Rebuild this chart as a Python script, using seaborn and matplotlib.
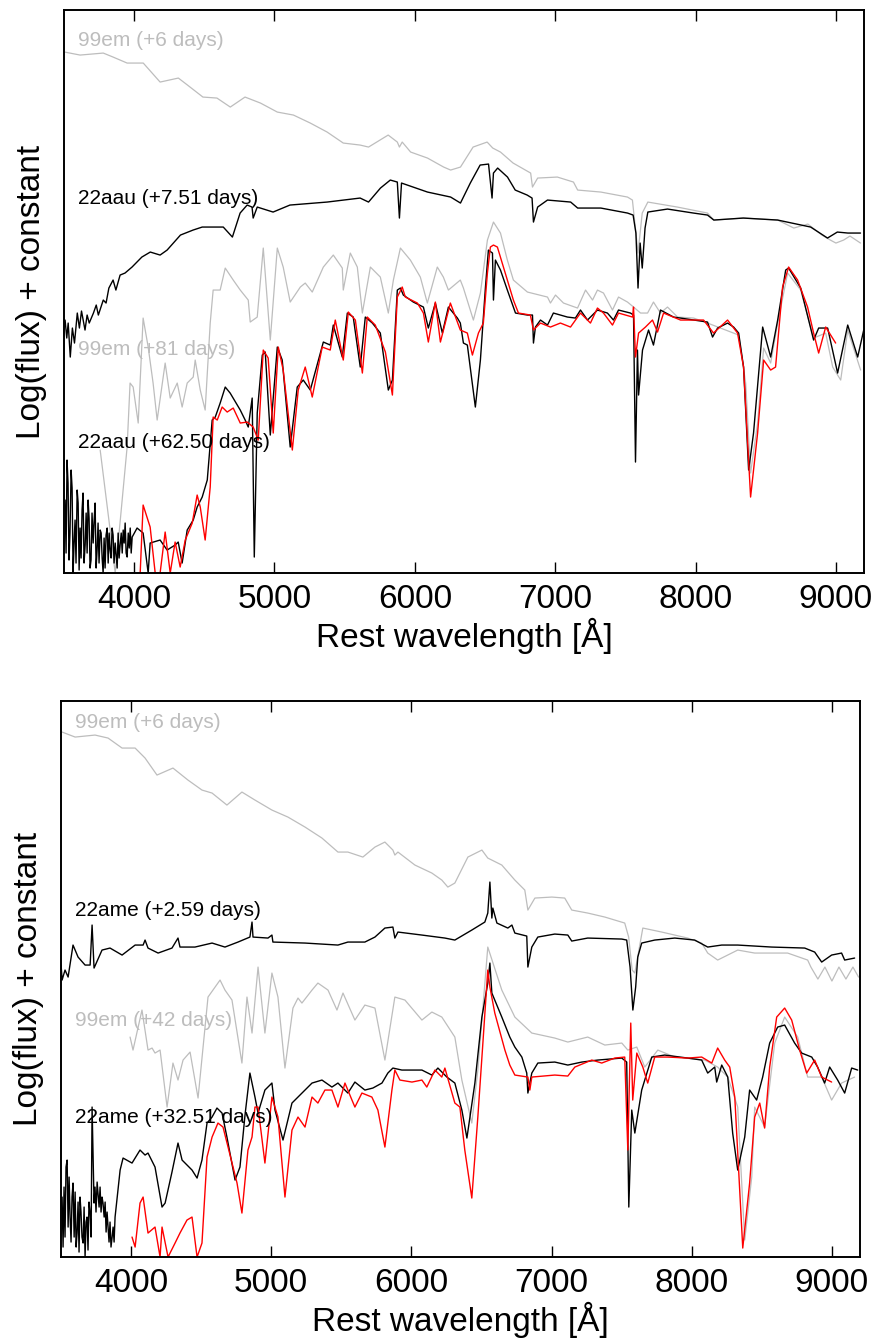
import matplotlib
matplotlib.use("Agg")
import matplotlib.pyplot as plt
import seaborn as sns
import pandas as pd

# --- spectra (rest wavelength [A], log flux + constant, arbitrary units) ---

# top panel: SN 2022aau vs 99em
em99_6d_top = [(3505, 521), (3615, 518), (3780, 520), (3850, 516), (3950, 510), (4065, 510), (4185, 491),
               (4315, 495), (4380, 488), (4490, 476), (4590, 475), (4685, 466), (4790, 476), (4900, 470),
               (5020, 461), (5135, 458), (5255, 450), (5375, 441), (5490, 430), (5610, 428), (5670, 426),
               (5810, 438), (5875, 431), (5890, 426), (5910, 431), (5970, 421), (6090, 415), (6205, 406),
               (6255, 403), (6325, 406), (6415, 426), (6515, 431), (6555, 425), (6610, 421), (6700, 410),
               (6825, 400), (6838, 386), (6875, 395), (7015, 396), (7130, 391), (7160, 383), (7325, 381),
               (7515, 376), (7550, 373), (7575, 340), (7590, 320), (7620, 360), (7660, 371), (7870, 366),
               (8085, 360), (8130, 353), (8340, 355), (8585, 353), (8700, 345), (8800, 349), (8900, 338),
               (8960, 333), (9000, 330), (9055, 333), (9100, 337), (9175, 330)]

aau_7d = [(3508, 253), (3520, 235), (3530, 250), (3545, 216), (3560, 245), (3575, 230), (3595, 260),
          (3610, 245), (3625, 262), (3650, 243), (3665, 258), (3680, 250), (3710, 260), (3730, 268),
          (3745, 258), (3780, 273), (3800, 270), (3820, 285), (3850, 293), (3870, 283), (3900, 298),
          (3935, 300), (3985, 306), (4055, 316), (4115, 321), (4185, 318), (4235, 323), (4330, 338),
          (4420, 343), (4485, 346), (4635, 346), (4700, 336), (4755, 360), (4805, 368), (4840, 366),
          (4848, 355), (4877, 366), (4990, 361), (5110, 368), (5375, 371), (5610, 375), (5670, 371),
          (5755, 385), (5825, 393), (5875, 391), (5890, 355), (5905, 390), (6090, 381), (6255, 376),
          (6325, 370), (6395, 390), (6465, 408), (6525, 409), (6550, 375), (6560, 400), (6590, 405),
          (6660, 396), (6715, 383), (6800, 378), (6835, 375), (6845, 351), (6875, 366), (6945, 373),
          (7110, 371), (7160, 365), (7325, 365), (7515, 360), (7555, 358), (7575, 340), (7590, 285),
          (7605, 330), (7620, 305), (7640, 345), (7660, 361), (7800, 364), (7985, 360), (8085, 358),
          (8130, 353), (8340, 355), (8585, 353), (8820, 346), (8940, 335), (9010, 341), (9085, 340),
          (9175, 340)]

em99_81d = [(3758, 123), (3829, 43), (3865, 0), (3886, 30), (3950, 126), (3971, 190), (3993, 186),
            (4029, 150), (4064, 255), (4100, 226), (4135, 190), (4164, 153), (4221, 210), (4257, 175),
            (4307, 190), (4342, 166), (4378, 190), (4421, 196), (4435, 213), (4471, 183), (4506, 163),
            (4542, 250), (4563, 283), (4613, 283), (4649, 305), (4706, 293), (4756, 283), (4813, 273),
            (4827, 251), (4877, 256), (4920, 325), (4970, 233), (5020, 325), (5062, 306), (5112, 271),
            (5184, 286), (5219, 290), (5269, 281), (5348, 306), (5419, 318), (5483, 305), (5490, 283),
            (5540, 320), (5590, 306), (5626, 260), (5683, 306), (5754, 296), (5811, 260), (5847, 293),
            (5897, 325), (5968, 313), (6039, 296), (6089, 270), (6160, 306), (6203, 296), (6239, 283),
            (6324, 293), (6346, 285), (6417, 253), (6467, 280), (6517, 333), (6560, 351), (6610, 340),
            (6659, 313), (6702, 293), (6802, 281), (6945, 276), (6966, 270), (7002, 278), (7059, 270),
            (7159, 265), (7216, 283), (7266, 273), (7301, 283), (7344, 280), (7408, 263), (7451, 276),
            (7515, 271), (7558, 266), (7608, 260), (7658, 260), (7700, 271), (7750, 260), (7800, 266),
            (7872, 256), (7986, 255), (8085, 250), (8307, 238), (8357, 190), (8392, 100), (8442, 150),
            (8485, 225), (8535, 210), (8585, 250), (8656, 300), (8749, 283), (8841, 235), (8927, 240),
            (8977, 206), (9034, 193), (9084, 243), (9176, 203)]

aau_62d = [(3508, 73), (3515, 20), (3522, 113), (3529, 90), (3536, 13), (3543, 40), (3551, 103),
           (3558, 85), (3565, 0), (3572, 30), (3579, 53), (3586, 10), (3594, 83), (3601, 70), (3608, 3),
           (3615, 45), (3622, 15), (3629, 63), (3636, 80), (3643, 10), (3651, 28), (3658, 60), (3665, 20),
           (3672, 73), (3679, 55), (3686, 5), (3693, 13), (3700, 60), (3708, 30), (3715, 53), (3722, 70),
           (3729, 5), (3736, 23), (3743, 50), (3750, 10), (3758, 43), (3765, 40), (3772, 15), (3779, 0),
           (3786, 35), (3793, 5), (3800, 38), (3808, 45), (3815, 10), (3822, 40), (3829, 23), (3836, 15),
           (3843, 45), (3850, 38), (3857, 10), (3865, 30), (3872, 18), (3879, 5), (3886, 40), (3893, 15),
           (3900, 28), (3908, 40), (3915, 20), (3922, 43), (3929, 30), (3936, 50), (3943, 20), (3950, 16),
           (3958, 40), (3965, 25), (3972, 45), (3979, 20), (3986, 36),
           (4021, 45), (4064, 40), (4100, 0), (4114, 30), (4185, 33), (4235, 23), (4292, 28), (4314, 31),
           (4342, 10), (4378, 43), (4421, 53), (4449, 66), (4485, 76), (4521, 93), (4556, 153), (4578, 156),
           (4613, 170), (4649, 186), (4684, 180), (4756, 163), (4791, 153), (4813, 146), (4841, 175),
           (4856, 16), (4877, 160), (4913, 218), (4934, 221), (4970, 138), (5020, 226), (5055, 213),
           (5112, 126), (5162, 186), (5205, 193), (5255, 183), (5348, 231), (5397, 228), (5419, 248),
           (5483, 216), (5519, 260), (5561, 256), (5611, 206), (5647, 256), (5697, 250), (5754, 240),
           (5811, 183), (5840, 193), (5875, 283), (5897, 285), (5918, 278), (5989, 271), (6061, 266),
           (6096, 245), (6146, 270), (6196, 240), (6239, 266), (6303, 255), (6324, 250), (6346, 230),
           (6374, 228), (6431, 166), (6467, 213), (6503, 286), (6524, 323), (6553, 320), (6560, 273),
           (6574, 313), (6610, 303), (6659, 283), (6717, 260), (6802, 258), (6838, 258), (6845, 230),
           (6859, 246), (6895, 253), (6945, 248), (6987, 260), (7087, 256), (7144, 255), (7180, 263),
           (7230, 253), (7301, 263), (7372, 260), (7415, 253), (7451, 263), (7536, 260), (7558, 258),
           (7572, 111), (7586, 223), (7594, 178), (7622, 223), (7665, 243), (7700, 228), (7750, 263),
           (7843, 256), (7986, 253), (8085, 251), (8121, 236), (8157, 245), (8228, 250), (8271, 246),
           (8307, 240), (8342, 206), (8378, 103), (8413, 140), (8478, 246), (8535, 216), (8585, 253),
           (8642, 303), (8663, 305), (8749, 285), (8841, 233), (8877, 245), (8941, 245), (9012, 200),
           (9084, 248), (9155, 216), (9198, 243)]

aau_62d_cmp = [(4043, 0), (4064, 68), (4114, 46), (4150, 0), (4185, 0), (4221, 41), (4257, 0), (4292, 31),
               (4328, 6), (4364, 33), (4414, 50), (4449, 78), (4471, 66), (4506, 33), (4542, 86), (4563, 156),
               (4592, 153), (4627, 166), (4663, 161), (4706, 165), (4756, 150), (4806, 151), (4848, 146),
               (4884, 133), (4920, 223), (4955, 215), (4991, 140), (5027, 226), (5062, 203), (5127, 123),
               (5169, 183), (5219, 206), (5269, 176), (5340, 226), (5397, 223), (5433, 253), (5490, 213),
               (5526, 261), (5576, 253), (5626, 200), (5661, 256), (5718, 248), (5790, 221), (5840, 178),
               (5875, 276), (5910, 286), (5932, 276), (6018, 270), (6061, 260), (6096, 231), (6146, 271),
               (6182, 231), (6253, 270), (6324, 243), (6374, 240), (6410, 218), (6453, 240), (6488, 250),
               (6517, 300), (6538, 326), (6560, 328), (6588, 326), (6631, 306), (6702, 273), (6738, 260),
               (6823, 258), (6845, 243), (6895, 250), (6966, 246), (7037, 250), (7109, 246), (7180, 260),
               (7251, 250), (7301, 265), (7344, 260), (7408, 248), (7451, 260), (7551, 256), (7558, 266),
               (7572, 216), (7594, 240), (7643, 246), (7693, 253), (7729, 241), (7772, 260), (7893, 253),
               (8057, 253), (8128, 240), (8228, 253), (8299, 240), (8342, 206), (8392, 76), (8442, 140),
               (8485, 213), (8535, 203), (8570, 206), (8620, 286), (8663, 306), (8727, 293), (8798, 266),
               (8841, 240), (8877, 220), (8927, 246), (8998, 230)]

# bottom panel: SN 2022ame vs 99em
em99_6d_bot = [(3508, 525), (3601, 520), (3743, 522), (3836, 519), (3936, 509), (4029, 509), (4100, 499),
               (4185, 482), (4299, 489), (4406, 477), (4506, 467), (4578, 464), (4684, 452), (4791, 465),
               (4884, 457), (5005, 447), (5119, 440), (5241, 430), (5362, 419), (5476, 405), (5547, 405),
               (5654, 400), (5740, 410), (5811, 415), (5868, 407), (5882, 402), (5904, 405), (6025, 392),
               (6146, 384), (6217, 377), (6260, 370), (6310, 374), (6403, 400), (6503, 407), (6545, 399),
               (6645, 392), (6738, 377), (6809, 367), (6831, 347), (6881, 359), (7002, 360), (7094, 359),
               (7144, 347), (7258, 344), (7380, 340), (7522, 334), (7550, 320), (7575, 287), (7594, 284),
               (7651, 329), (7786, 325), (7971, 319), (8071, 314), (8114, 304), (8185, 297), (8328, 307),
               (8449, 304), (8684, 304), (8827, 297), (8850, 290), (8900, 278), (8950, 290), (9000, 276),
               (9050, 290), (9100, 278), (9150, 290), (9190, 280)]

ame_2d = [(3501, 292), (3508, 277), (3529, 287), (3551, 280), (3586, 312), (3622, 300), (3672, 292),
          (3708, 292), (3722, 332), (3736, 289), (3793, 307), (3850, 309), (3936, 302), (4029, 312),
          (4086, 312), (4100, 317), (4121, 309), (4193, 304), (4292, 309), (4335, 319), (4349, 310),
          (4456, 310), (4578, 314), (4670, 310), (4763, 315), (4848, 320), (4863, 335), (4870, 320),
          (4977, 319), (5005, 322), (5012, 315), (5241, 314), (5476, 312), (5547, 315), (5668, 315),
          (5740, 320), (5811, 329), (5868, 330), (5882, 319), (5904, 325), (6075, 322), (6239, 319),
          (6310, 317), (6431, 327), (6524, 335), (6545, 344), (6560, 375), (6574, 339), (6581, 349),
          (6610, 334), (6688, 329), (6717, 332), (6738, 324), (6823, 321), (6831, 290), (6859, 310),
          (6902, 320), (7023, 323), (7116, 322), (7144, 316), (7258, 319), (7501, 318), (7536, 317),
          (7560, 290), (7580, 247), (7600, 270), (7615, 300), (7643, 314), (7736, 317), (7879, 319),
          (8021, 317), (8114, 310), (8214, 312), (8328, 312), (8570, 310), (8806, 309), (8877, 305),
          (8927, 295), (8998, 302), (9069, 304), (9091, 297), (9162, 299)]

em99_42d = [(3993, 220), (4014, 207), (4078, 247), (4121, 207), (4150, 209), (4171, 204), (4207, 207),
            (4257, 150), (4299, 194), (4335, 177), (4371, 197), (4421, 205), (4478, 159), (4549, 260),
            (4635, 277), (4670, 267), (4720, 257), (4791, 194), (4827, 260), (4863, 224), (4906, 290),
            (4955, 224), (5005, 284), (5048, 260), (5098, 189), (5155, 249), (5191, 259), (5219, 254),
            (5291, 267), (5333, 274), (5405, 267), (5469, 247), (5512, 264), (5597, 237), (5668, 252),
            (5740, 249), (5811, 197), (5882, 260), (5954, 257), (6075, 237), (6146, 245), (6217, 240),
            (6310, 220), (6360, 177), (6431, 134), (6474, 187), (6545, 310), (6645, 267), (6738, 240),
            (6859, 224), (7023, 219), (7116, 215), (7258, 220), (7380, 212), (7501, 214), (7544, 207),
            (7608, 210), (7665, 190), (7758, 207), (7879, 200), (8093, 197), (8185, 190), (8257, 180),
            (8328, 150), (8378, 17), (8428, 80), (8449, 150), (8520, 130), (8592, 214), (8663, 240),
            (8756, 220), (8827, 180), (8927, 180), (8998, 157), (9069, 174), (9162, 180)]

ame_32d = [(3508, 60), (3515, 10), (3522, 70), (3529, 20), (3536, 90), (3544, 97), (3551, 30), (3558, 80),
           (3565, 40), (3572, 15), (3579, 60), (3586, 74), (3594, 20), (3601, 65), (3608, 10), (3615, 24),
           (3622, 55), (3629, 5), (3636, 60), (3643, 45), (3650, 20), (3658, 14), (3665, 50), (3672, 0),
           (3679, 35), (3686, 40), (3693, 7), (3700, 55), (3708, 44), (3715, 20), (3722, 150), (3736, 54),
           (3743, 70), (3750, 45), (3758, 75), (3765, 62), (3772, 50), (3779, 70), (3786, 45), (3793, 60),
           (3800, 54), (3808, 40), (3815, 55), (3822, 25), (3829, 45), (3836, 30), (3843, 15), (3850, 35),
           (3857, 10), (3865, 20), (3872, 30), (3879, 15), (3886, 40),
           (3922, 87), (3943, 99), (4007, 94), (4064, 107), (4100, 102), (4121, 104),
           (4171, 90), (4221, 50), (4243, 54), (4292, 85), (4335, 114), (4364, 97), (4435, 87), (4471, 79),
           (4506, 97), (4542, 134), (4578, 140), (4613, 149), (4649, 144), (4684, 120), (4742, 77),
           (4777, 90), (4813, 142), (4848, 184), (4884, 160), (4906, 144), (4955, 167), (5005, 174),
           (5027, 147), (5084, 117), (5148, 154), (5219, 164), (5291, 174), (5362, 177), (5433, 170),
           (5476, 174), (5547, 164), (5597, 175), (5668, 167), (5725, 169), (5790, 174), (5832, 184),
           (5868, 189), (5932, 187), (6075, 187), (6146, 182), (6189, 189), (6253, 180), (6310, 174),
           (6360, 147), (6396, 119), (6453, 174), (6503, 240), (6545, 274), (6560, 294), (6574, 264),
           (6645, 240), (6702, 220), (6738, 210), (6788, 200), (6823, 184), (6831, 164), (6859, 184),
           (6902, 194), (7023, 195), (7116, 192), (7216, 195), (7330, 197), (7501, 199), (7536, 195),
           (7551, 50), (7572, 147), (7594, 124), (7643, 167), (7715, 200), (7807, 202), (7971, 199),
           (8071, 197), (8114, 184), (8164, 190), (8178, 175), (8214, 192), (8257, 180), (8292, 124),
           (8328, 87), (8378, 120), (8413, 167), (8463, 157), (8506, 180), (8556, 214), (8613, 230),
           (8663, 232), (8734, 214), (8784, 204), (8856, 200), (8898, 190), (8948, 174), (8984, 190),
           (9041, 177), (9091, 164), (9141, 189), (9184, 187)]

ame_32d_cmp = [(4007, 20), (4029, 10), (4064, 54), (4086, 60), (4121, 24), (4171, 30), (4207, 0),
               (4221, 30), (4264, 0), (4314, 14), (4349, 24), (4399, 37), (4435, 40), (4471, 0), (4506, 14),
               (4542, 100), (4578, 120), (4620, 134), (4656, 130), (4692, 110), (4756, 74), (4791, 44),
               (4834, 107), (4863, 120), (4884, 150), (4906, 150), (4955, 94), (5005, 160), (5048, 140),
               (5098, 60), (5148, 127), (5191, 140), (5241, 130), (5291, 160), (5333, 154), (5383, 167),
               (5433, 167), (5476, 150), (5526, 174), (5576, 157), (5597, 150), (5647, 164), (5718, 160),
               (5761, 147), (5811, 110), (5861, 167), (5882, 187), (5918, 177), (6004, 175), (6075, 177),
               (6110, 170), (6168, 187), (6217, 180), (6239, 189), (6310, 154), (6346, 150), (6381, 107),
               (6431, 59), (6474, 140), (6510, 214), (6545, 287), (6560, 270), (6595, 244), (6667, 207),
               (6702, 192), (6738, 182), (6831, 180), (6845, 167), (6859, 180), (7023, 182), (7116, 181),
               (7166, 190), (7287, 197), (7358, 194), (7451, 199), (7522, 200), (7544, 107), (7565, 234),
               (7579, 157), (7608, 204), (7651, 190), (7686, 174), (7736, 200), (7829, 200), (7971, 199),
               (8071, 200), (8143, 194), (8185, 209), (8235, 197), (8271, 190), (8307, 160), (8364, 9),
               (8413, 74), (8449, 140), (8485, 154), (8520, 129), (8556, 190), (8606, 240), (8663, 249),
               (8713, 237), (8770, 207), (8820, 184), (8877, 197), (8927, 180), (8998, 175)]

GREY = "#bdbdbd"

top_lines = [(em99_6d_top, GREY, 0.9), (em99_81d, GREY, 0.9), (aau_7d, "black", 1.0),
             (aau_62d, "black", 1.0), (aau_62d_cmp, "red", 1.0)]
top_labels = [("99em (+6 days)", 533, GREY), ("22aau (+7.51 days)", 375, "black"),
              ("99em (+81 days)", 224, GREY), ("22aau (+62.50 days)", 131, "black")]

bot_lines = [(em99_6d_bot, GREY, 0.9), (em99_42d, GREY, 0.9), (ame_2d, "black", 1.0),
             (ame_32d, "black", 1.0), (ame_32d_cmp, "red", 1.0)]
bot_labels = [("99em (+6 days)", 535, GREY), ("22ame (+2.59 days)", 347, "black"),
              ("99em (+42 days)", 237, GREY), ("22ame (+32.51 days)", 140, "black")]

sns.set_style("white")
plt.rcParams['font.family'] = ['Liberation Sans', 'DejaVu Sans']
plt.rcParams['text.color'] = 'black'
plt.rcParams['axes.labelcolor'] = 'black'
plt.rcParams['xtick.color'] = 'black'

fig = plt.figure(figsize=(8.81, 13.42), dpi=100)
ax_top = fig.add_axes([0.0726, 0.5730, 0.9081, 0.4195])
ax_bot = fig.add_axes([0.0692, 0.0633, 0.9069, 0.4143])


def draw_panel(ax, lines, labels, ytop):
    for spec, col, lw in lines:
        df = pd.DataFrame(spec, columns=["wave", "flux"])
        sns.lineplot(data=df, x="wave", y="flux", ax=ax, color=col, lw=lw,
                     estimator=None, sort=False, legend=False)
    for txt, yv, col in labels:
        ax.text(3600, yv, txt, color=col, fontsize=15, ha="left", va="center")
    ax.set_xlim(3500, 9200)
    ax.set_ylim(0, ytop)
    ax.set_yticks([])
    ax.set_xticks([4000, 5000, 6000, 7000, 8000, 9000])
    ax.tick_params(axis="x", direction="in", top=True, bottom=True, length=8, width=1,
                   labelsize=24, pad=8, colors="black")
    for sp in ax.spines.values():
        sp.set_linewidth(1.4)
        sp.set_color("black")
    ax.set_xlabel("Rest wavelength [Å]", fontsize=24, labelpad=2, color="black")
    ax.set_ylabel("Log(flux) + constant", fontsize=24, labelpad=12, color="black")


draw_panel(ax_top, top_lines, top_labels, 563)
draw_panel(ax_bot, bot_lines, bot_labels, 556)

fig.savefig("out.png", dpi=100)
